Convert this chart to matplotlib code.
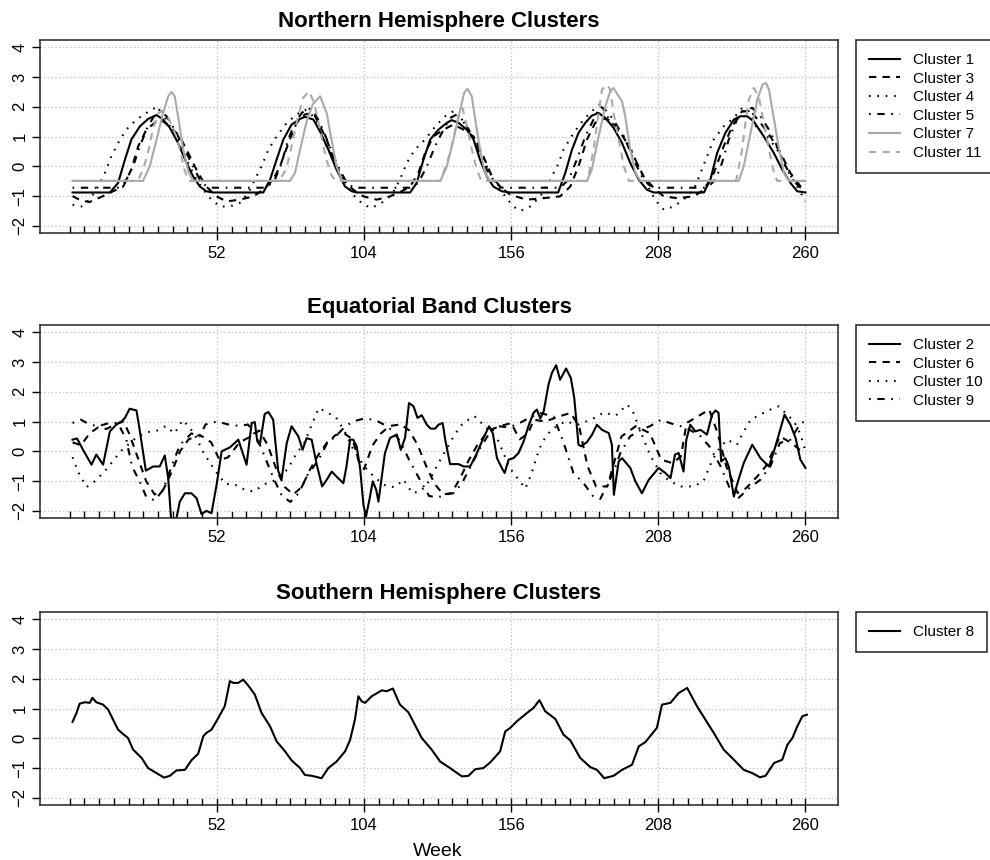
import numpy as np
import matplotlib
matplotlib.use('Agg')
import matplotlib.pyplot as plt
from matplotlib.ticker import FixedLocator

plt.rcParams['font.family'] = ['Liberation Sans', 'DejaVu Sans']

# ---------------- data (week, value) ----------------
# Northern Hemisphere
c1 = [(1, -0.88), (14.2, -0.88), (17.1, -0.56), (19.5, 0.22), (21.8, 0.9), (24.8, 1.34), (27.7, 1.59),
      (30.7, 1.72), (33, 1.57), (35.4, 1.29), (38.3, 0.78), (41.3, 0.11), (43.6, -0.34), (46, -0.68),
      (48.3, -0.84), (50.7, -0.88), (68.4, -0.88), (70.8, -0.45), (73.1, 0.22), (75.5, 0.9), (78.4, 1.4),
      (81.4, 1.59), (83.1, 1.66), (86.1, 1.57), (88.4, 1.18), (91.4, 0.56), (94.3, -0.11), (97.3, -0.68),
      (99.7, -0.84), (101.4, -0.88), (120.3, -0.88), (122.6, -0.56), (125, 0.22), (127.4, 0.9), (130.3, 1.23),
      (133.3, 1.46), (135, 1.55), (137.4, 1.46), (140.3, 1.23), (142.7, 0.9), (145, 0.22), (147.4, -0.34),
      (149.7, -0.68), (152.7, -0.84), (155.7, -0.88), (172.6, -0.88), (175.1, -0.23), (177.5, 0.56),
      (179.8, 1.12), (182.2, 1.46), (184.5, 1.7), (186.9, 1.79), (189.3, 1.62), (192.2, 1.29), (195.2, 0.78),
      (198.1, 0.11), (201.1, -0.45), (204, -0.79), (206.4, -0.88), (224.1, -0.88), (226.4, -0.45),
      (228.8, 0.45), (231.7, 1.12), (234.7, 1.57), (237, 1.68), (239.4, 1.68), (241.7, 1.51), (245.3, 1.0),
      (248.8, 0.45), (251.8, -0.11), (254.7, -0.56), (257.1, -0.84), (260, -0.88)]
c3 = [(1, -1.0), (4, -1.15), (7, -1.2), (11.8, -1.0), (15.3, -0.84), (18.9, -0.68), (21.8, -0.1), (24.2, 0.67),
      (27.1, 1.23), (30.7, 1.51), (33, 1.51), (35.4, 1.34), (38.9, 1.0), (42.5, 0.33), (45.4, -0.23),
      (48.3, -0.68), (51.9, -1.01), (55.4, -1.18), (60.1, -1.12), (64.9, -1.01), (68.4, -0.79), (71.9, -0.45),
      (74.3, 0.0), (77.8, 0.9), (80.2, 1.46), (83.1, 1.74), (86.1, 1.79), (87.3, 1.57), (90.8, 0.9),
      (93.8, 0.11), (96.7, -0.45), (100.2, -0.79), (103.8, -1.01), (108.5, -1.12), (113.2, -1.01),
      (117.3, -0.84), (120.3, -0.68), (123.2, -0.23), (125.6, 0.45), (128.5, 1.0), (132.1, 1.23), (135.6, 1.4),
      (139.2, 1.23), (142.7, 1.0), (146.2, 0.33), (149.2, -0.34), (152.1, -0.68), (155.7, -0.96),
      (161.6, -1.12), (167.5, -1.07), (173.3, -1.01), (176.9, -0.68), (179.8, 0.0), (182.8, 0.9),
      (185.7, 1.46), (188.7, 1.6), (191, 1.55), (194, 1.23), (196.9, 0.78), (199.9, 0.22), (202.8, -0.34),
      (206.4, -0.73), (209.9, -1.01), (214.6, -1.07), (220.5, -1.01), (224.1, -0.79), (227.6, -0.23),
      (231.1, 0.67), (234.1, 1.34), (237.6, 1.85), (240.6, 1.85), (244.1, 1.46), (247.6, 1.0), (251.2, 0.45),
      (254.7, -0.23), (258.3, -0.68), (260, -0.84)]
c4 = [(1, -1.29), (4.1, -1.35), (7.1, -1.12), (10, -0.68), (12.4, -0.23), (14.7, 0.33), (17.1, 0.78),
      (20, 1.23), (23.6, 1.57), (27.1, 1.79), (30.1, 1.96), (32.4, 1.85), (35.4, 1.34), (38.3, 0.9),
      (41.3, 0.22), (44.2, -0.34), (47.2, -0.79), (50.1, -1.12), (53.1, -1.35), (56.6, -1.35), (60.1, -1.23),
      (63.1, -0.9), (65.4, -0.45), (67.8, 0.0), (70.2, 0.56), (73.1, 1.0), (76.7, 1.46), (80.2, 1.74),
      (83.1, 1.9), (86.1, 1.68), (89.6, 0.9), (93.2, 0.22), (96.7, -0.45), (100.2, -0.96), (103.8, -1.29),
      (106.7, -1.4), (110.2, -1.23), (113.8, -0.96), (116.7, -0.45), (119.1, 0.11), (122, 0.56), (125.6, 0.9),
      (129.2, 1.34), (132.7, 1.68), (135.6, 1.85), (138.6, 1.57), (140.9, 1.23), (143.9, 0.78), (146.8, 0.11),
      (150.4, -0.56), (153.9, -1.01), (156.8, -1.35), (159.2, -1.5), (162.7, -1.35), (166.3, -1.01),
      (169.8, -0.45), (172.8, 0.11), (174.5, 0.56), (178.1, 1.12), (181.6, 1.57), (185.1, 1.9), (187.5, 2.1),
      (189.9, 1.68), (193.4, 1.23), (196.9, 0.9), (200.4, 0.11), (203.8, -0.56), (206.8, -1.12),
      (209.9, -1.46), (213.4, -1.35), (216.9, -1.12), (220.5, -0.79), (222.9, -0.23), (225.2, 0.33),
      (227.6, 0.9), (231.1, 1.34), (234.7, 1.62), (237.6, 1.96), (240, 1.85), (243, 1.23), (246.5, 1.0),
      (250, 0.56), (253.5, -0.11), (257.1, -0.68), (260, -1.18)]
c5 = [(1, -0.72), (17, -0.72), (20, -0.45), (22.4, 0.0), (24.8, 0.67), (27.1, 1.23), (30.1, 1.74), (31.8, 1.9),
      (34.2, 1.68), (37.1, 1.23), (40.1, 0.67), (43, 0.11), (46, -0.45), (48.3, -0.68), (50.7, -0.72),
      (69.6, -0.72), (72.5, -0.45), (74.9, 0.11), (77.2, 0.9), (79.6, 1.46), (82, 1.79), (84.3, 1.96),
      (86.1, 1.85), (88.4, 1.46), (91.4, 0.78), (94.3, 0.11), (97.3, -0.45), (100.2, -0.72), (120.3, -0.72),
      (123.2, -0.56), (126.2, 0.0), (129.1, 0.67), (132.1, 1.23), (134.4, 1.62), (136.8, 1.74), (139.2, 1.51),
      (142.1, 1.06), (145, 0.45), (147.4, -0.11), (150.4, -0.56), (152.7, -0.72), (173.3, -0.72),
      (176.3, -0.45), (179.2, 0.22), (182.2, 1.0), (185.1, 1.57), (187.5, 2.01), (189.9, 1.85), (192.8, 1.46),
      (196.3, 0.9), (199.3, 0.22), (202.2, -0.34), (204.6, -0.62), (207, -0.72), (225.2, -0.72),
      (228.2, -0.45), (230.5, 0.11), (232.9, 0.9), (235.8, 1.57), (238.8, 1.9), (241.2, 1.96), (244.1, 1.68),
      (247.1, 1.23), (250, 0.67), (253, 0.0), (255.9, -0.51), (258.3, -0.72), (260, -0.8)]
c7 = [(1, -0.49), (25.9, -0.49), (28.3, 0.0), (30.7, 0.9), (33, 1.79), (34.8, 2.35), (36, 2.5), (37.1, 2.35),
      (38.3, 1.68), (40.1, 0.56), (41.9, -0.17), (43.6, -0.49), (77.8, -0.49), (79.6, -0.23), (81.4, 0.56),
      (83.7, 1.5), (86, 2.1), (88.5, 2.35), (90.8, 1.79), (92.5, 0.9), (94.3, 0.0), (96.1, -0.45), (97, -0.49),
      (131, -0.49), (133.3, 0.0), (135.6, 0.9), (138, 1.9), (139.4, 2.47), (140.6, 2.6), (142.1, 2.35),
      (143.3, 1.57), (145, 0.56), (146.8, -0.23), (148.6, -0.49), (182.8, -0.49), (184.5, -0.12),
      (186.9, 1.0), (189.3, 2.01), (191, 2.52), (192.2, 2.63), (194, 2.35), (195.2, 2.18), (196.3, 1.68),
      (198.1, 0.56), (199.9, -0.23), (201.7, -0.49), (236.4, -0.49), (238.2, 0.0), (240.6, 1.12), (243, 2.24),
      (244.8, 2.74), (246, 2.8), (247.1, 2.58), (248.9, 1.57), (250.7, 0.56), (252.4, -0.23), (254.2, -0.49),
      (260, -0.49)]
c11 = [(1, -0.49), (24, -0.49), (26, -0.1), (28, 0.6), (29.5, 1.3), (31.5, 1.8), (33, 1.85), (35, 1.6),
       (37.7, 1.0), (38.9, 0.56), (40.5, -0.1), (42, -0.49), (74, -0.49), (76.5, -0.1), (78.5, 0.7),
       (80.5, 1.6), (82.5, 2.3), (84.6, 2.52), (86.5, 2.1), (88.5, 1.2), (90.5, 0.3), (92.5, -0.3), (94, -0.49),
       (131, -0.49), (132.5, -0.1), (134.4, 0.45), (136.8, 1.46), (138, 1.85), (138.8, 1.96), (140.4, 1.34),
       (142.1, 0.56), (143.8, -0.1), (145.5, -0.49), (183, -0.49), (185.1, 0.56), (186.9, 1.79), (188.1, 2.58),
       (189.9, 2.74), (191, 2.58), (192.2, 1.79), (194, 0.9), (195.8, 0.0), (197.6, -0.49), (235.5, -0.49),
       (237.6, 0.56), (238.8, 1.46), (240, 2.24), (241.7, 2.63), (243.5, 2.35), (245.3, 1.46), (247.1, 0.56),
       (248.9, -0.23), (250, -0.49), (260, -0.49)]

# Equatorial band
c2 = [(1, 0.39), (2.6, 0.43), (4.7, 0.05), (6.2, -0.2), (7.7, -0.45), (9.4, -0.11), (11.8, -0.45), (14.2, 0.67),
      (16.5, 0.9), (18.3, 1.0), (19.5, 1.12), (21.2, 1.43), (23.6, 1.37), (24.8, 0.67), (26.9, -0.65),
      (29.5, -0.51), (31.8, -0.51), (33.6, -0.14), (34.8, -0.9), (36, -2.5), (37.2, -2.5), (38.9, -1.69),
      (40.7, -1.41), (43, -1.41), (44.8, -1.57), (46.6, -2.11), (48.3, -2.0), (50.1, -2.08), (51.9, -1.13),
      (53.7, 0.0), (56.6, 0.13), (59.6, 0.39), (61.3, -0.11), (62.5, -0.45), (64.3, 0.95), (65.4, 0.98),
      (66.3, 0.33), (67.2, 0.22), (68.9, 1.25), (70.2, 1.32), (71.9, 1.06), (73.7, -0.67), (74.9, -0.92),
      (76.7, 0.28), (78.4, 0.84), (80.8, 0.5), (82.3, 0.05), (83.7, 0.44), (85.5, 0.39), (87.3, -0.45),
      (89.2, -1.18), (90.8, -0.96), (92.6, -0.68), (94.3, -0.85), (96.7, -1.07), (97.8, -0.51), (99.1, 0.39),
      (100.2, 0.39), (101.4, 0.17), (102.6, -0.56), (103.8, -1.8), (104.7, -2.19), (105.9, -1.63),
      (107.1, -1.01), (108.3, -1.29), (109.1, -1.69), (110.3, -0.84), (111.4, -0.06), (113.2, 0.45),
      (115.6, 0.56), (117, 0.05), (118.5, 0.45), (119.9, 1.62), (121.5, 1.51), (122.9, 1.12), (124.4, 1.21),
      (126.2, 0.89), (127.6, 0.76), (129.1, 0.76), (130.3, 0.89), (131.8, 0.95), (132.7, 0.39), (134.4, -0.43),
      (137.4, -0.43), (139.2, -0.51), (141.5, -0.51), (143.9, -0.06), (146.2, 0.45), (148.2, 0.84),
      (149.5, 0.61), (151, -0.23), (152.7, -0.56), (153.7, -0.73), (155.1, -0.28), (156.8, -0.23),
      (158.6, -0.06), (160.4, 0.33), (162.1, 0.84), (163.9, 1.29), (165.1, 1.4), (166.3, 1.1), (167.5, 1.34),
      (169.2, 2.24), (170.4, 2.63), (171.9, 2.89), (173.3, 2.4), (175.4, 2.78), (177.1, 2.46), (178.3, 1.79),
      (179.8, 0.22), (180.7, 0.17), (182.8, 0.31), (184.6, 0.56), (186.3, 0.89), (188.1, 0.72), (190.5, 0.61),
      (191.6, 0.22), (192.3, -1.46), (194, -0.34), (195.2, -0.23), (198.1, -0.56), (199.9, -1.01),
      (202.2, -1.41), (204.6, -0.96), (208.1, -0.56), (210.5, -0.73), (212.3, -0.9), (213.9, -0.11),
      (215.2, -0.06), (216.9, -0.68), (217.9, 0.39), (219.3, 0.89), (221.1, 0.67), (222.9, 0.72),
      (225.2, 0.56), (227, 1.23), (228.2, 1.37), (229.3, 1.29), (230.2, -0.34), (231.7, -0.23), (232.9, -0.51),
      (234.7, -1.52), (235.8, -1.12), (238.2, -0.39), (241.2, 0.22), (244.1, -0.23), (247.1, -0.51),
      (249.4, 0.17), (252.6, 1.23), (254.7, 0.89), (256.5, 0.45), (258.2, -0.28), (260, -0.56)]
c6 = [(1, 0.3), (4, 0.2), (7, 0.6), (10, 0.8), (13, 0.75), (16, 0.9), (19, 1.0), (21, 0.6), (24, -0.2),
      (27, -1.0), (30, -1.45), (33, -1.3), (36, -0.7), (39, 0.0), (42, 0.4), (46, 0.55), (50, 0.3), (53, -0.3),
      (56, -0.2), (60, 0.3), (64, 0.5), (67, 0.7), (70, 0.2), (73, -0.6), (76, -1.2), (79, -1.45), (82, -1.2),
      (85, -0.6), (88, -0.1), (91, 0.3), (94, 0.55), (97, 0.6), (100, 0.4), (102, -0.3), (104, -0.6),
      (107, 0.2), (110, 0.6), (113, 0.85), (117, 0.9), (120, 0.7), (123, 0.2), (126, -0.5), (129, -1.1),
      (132, -1.45), (135, -1.4), (138, -0.9), (141, -0.3), (144, 0.2), (148, 0.7), (152, 0.84), (156, 0.95),
      (159, 0.4), (162, 0.6), (164, 1.06), (168, 1.0), (173, 1.17), (177, 1.29), (180, 0.84), (183, -0.5),
      (186, -1.18), (190, -1.18), (192, -0.5), (195, 0.5), (200, 0.84), (205, 0.61), (209, -0.28),
      (213, -0.4), (216, -0.17), (218, 0.95), (223, 1.23), (226, 1.4), (229, 0.6), (232, -0.5), (236, -1.4),
      (239, -1.24), (243, -0.84), (246, -0.5), (251, 0.5), (255, 0.28), (258, 0.05), (260, -0.06)]
c10 = [(1, -0.2), (3, -0.7), (6, -1.2), (9, -1.0), (13, -0.6), (18, 0.0), (24, 0.5), (28, 0.65), (31, 0.7),
       (34, 0.85), (37, 0.6), (40, 1.05), (44, 0.6), (47, 0.0), (51, -0.6), (55, -1.1), (58, -1.1),
       (62, -1.3), (65, -1.35), (69, -1.1), (73, -0.96), (77, -0.6), (80, -0.1), (83, 0.3), (86, 1.0),
       (88, 1.45), (91, 1.3), (94, 1.15), (97, 0.7), (100, 0.1), (104, -0.5), (108, -0.9), (112, -1.18),
       (115, -1.2), (118, -0.95), (121, -1.4), (124, -1.35), (127, -1.0), (130, -0.45), (133, 0.05),
       (136, 0.56), (139, 0.95), (143, 1.18), (145, 1.0), (147, 0.8), (151, 0.45), (153, 0.0), (155.5, -0.56),
       (159, -1.0), (161, -1.25), (163, -0.8), (166, 0.1), (168.6, 0.56), (171.5, 0.8), (175, 1.0), (180, 0.9),
       (185, 1.1), (188.7, 1.3), (193, 1.2), (197, 1.57), (199, 1.34), (201.7, 0.67), (205, -0.11),
       (208.7, -0.73), (212, -1.0), (216, -1.18), (220.5, -1.18), (224, -1.0), (226.4, -0.45), (228.8, 0.0),
       (232.3, 0.39), (235.8, 0.22), (237.6, 0.56), (240.6, 1.06), (244, 1.23), (247.6, 1.4), (250.6, 1.51),
       (253.5, 1.23), (256, 1.0), (258.3, 0.56), (260, 0.0)]
c9 = [(1, 0.95), (4, 1.06), (7, 0.9), (10, 0.84), (14, 0.95), (17, 0.95), (20, 0.4), (22, -0.5), (25, -1.07),
      (27, -1.52), (30, -1.65), (33, -1.3), (36, -0.5), (39, 0.22), (43, 0.6), (46, 0.5), (48, 0.9), (52, 1.0),
      (56, 0.9), (60, 0.85), (63, 0.9), (66, 0.5), (69, -0.2), (72, -0.9), (75, -1.5), (78, -1.7), (81, -1.4),
      (84, -0.8), (88, -0.28), (91, 0.28), (94, 0.5), (97, 0.8), (100, 1.0), (104, 1.1), (108, 1.05),
      (111, 0.9), (114, 0.7), (117, 0.3), (120, -0.3), (124, -1.0), (127, -1.5), (130, -1.55), (133, -1.45),
      (136, -1.4), (139, -1.0), (142, -0.45), (145, 0.1), (148, 0.56), (151, 0.85), (155, 0.8), (158, 0.9),
      (162, 1.1), (166, 1.29), (171, 1.17), (174.5, 0.3), (178, -0.73), (181.6, -1.07), (185, -1.52),
      (187.5, -1.6), (192, -0.73), (194.6, -0.06), (198, 0.5), (202, 0.73), (205, 0.84), (209, 1.06),
      (212, 0.95), (216, 0.84), (219, 0.73), (223, 0.5), (226, 0.17), (230, -0.5), (233.5, -1.3), (236, -1.6),
      (239.4, -1.29), (244, -0.96), (247.6, -0.5), (251, 0.28), (254.7, 0.39), (258.3, 0.95), (260, 1.0)]

# Southern Hemisphere
c8 = [(1, 0.55), (2.4, 0.85), (3.5, 1.16), (5.3, 1.21), (7.1, 1.19), (8, 1.36), (9.4, 1.21), (11.8, 1.13),
      (13.6, 0.96), (15.3, 0.63), (17.1, 0.29), (18.9, 0.14), (20.6, 0.01), (22.4, -0.38), (25.4, -0.66),
      (27.7, -1.0), (30.7, -1.17), (33.3, -1.32), (35.4, -1.26), (37.7, -1.08), (40.7, -1.06), (43, -0.74),
      (45.4, -0.52), (47.2, 0.07), (48.3, 0.18), (50.1, 0.29), (52.5, 0.68), (54.8, 1.08), (56.6, 1.92),
      (57.8, 1.86), (59.6, 1.86), (61.3, 1.97), (63.1, 1.77), (65.4, 1.47), (67.8, 0.85), (70.8, 0.4),
      (73.1, -0.1), (76.1, -0.44), (78.4, -0.74), (81.4, -1.0), (83.1, -1.23), (85.5, -1.26), (89, -1.34),
      (91.4, -1.0), (94.3, -0.78), (97.3, -0.44), (99.1, -0.05), (100.8, 0.63), (102, 1.41), (103.2, 1.24),
      (104.4, 1.19), (106.7, 1.41), (110.3, 1.61), (112, 1.58), (114.2, 1.67), (116.7, 1.13), (119.7, 0.87),
      (124.4, 0.01), (127.9, -0.38), (130.9, -0.78), (134.4, -1.0), (138.6, -1.28), (140.9, -1.26),
      (143.3, -1.04), (146.2, -1.0), (148.6, -0.81), (152.1, -0.44), (153.9, 0.23), (155.7, 0.35),
      (158, 0.57), (161.6, 0.85), (163.9, 1.02), (166, 1.28), (168, 0.91), (171.6, 0.65), (174.5, 0.12),
      (176.9, -0.07), (180.4, -0.66), (184, -0.97), (186.3, -1.06), (188.9, -1.34), (192.2, -1.26),
      (195.2, -1.06), (198.7, -0.89), (201.1, -0.27), (203.4, -0.13), (207.5, 0.35), (209.3, 1.13),
      (212.3, 1.19), (215.2, 1.52), (218.2, 1.69), (221.7, 1.07), (227.6, 0.18), (231.1, -0.38),
      (234.7, -0.72), (238.2, -1.06), (241.2, -1.17), (243.9, -1.31), (245.9, -1.26), (248.9, -0.83),
      (251.8, -0.72), (253.6, -0.22), (255.4, 0.01), (257.1, 0.4), (258.9, 0.74), (260.5, 0.79)]

north_labels = ['Cluster 1', 'Cluster 3', 'Cluster 4', 'Cluster 5', 'Cluster 7', 'Cluster 11']
equator_labels = ['Cluster 2', 'Cluster 6', 'Cluster 10', 'Cluster 9']
south_labels = ['Cluster 8']
week_ticks = [52, 104, 156, 208, 260]

# R-style line types
SOLID = '-'
DASHED = (0, (3.5, 3))
DOTTED = (0, (0.8, 3.2))
DOTDASH = (0, (0.8, 3.2, 3.5, 3.2))
GREY = '#a9a9a9'

panels = [
    ('Northern Hemisphere Clusters', [c1, c3, c4, c5, c7, c11], north_labels,
     ['black', 'black', 'black', 'black', GREY, GREY], [SOLID, DASHED, DOTTED, DOTDASH, SOLID, DASHED]),
    ('Equatorial Band Clusters', [c2, c6, c10, c9], equator_labels,
     ['black'] * 4, [SOLID, DASHED, DOTTED, DOTDASH]),
    ('Southern Hemisphere Clusters', [c8], south_labels, ['black'], [SOLID]),
]

W, H = 990, 860
fig = plt.figure(figsize=(W / 100, H / 100), dpi=100)

ax_tops = [40, 325, 612]
for (title, series, labels, colors, styles), top in zip(panels, ax_tops):
    ax = fig.add_axes([40 / W, 1 - (top + 193) / H, 798 / W, 193 / H])
    for data, lab, col, ls in zip(series, labels, colors, styles):
        arr = np.array(data)
        ax.plot(arr[:, 0], arr[:, 1], color=col, linestyle=ls, linewidth=1.5, label=lab)

    ax.set_xlim(-10.5, 271.5)
    ax.set_ylim(-2.24, 4.24)
    ax.set_yticks(range(-2, 5))
    ax.set_xticks(week_ticks)
    ax.xaxis.set_minor_locator(FixedLocator(np.arange(51) * 5.2))
    ax.tick_params(axis='x', which='major', direction='inout', length=10, width=1, labelsize=12, pad=4)
    ax.tick_params(axis='x', which='minor', direction='in', length=5, width=1)
    ax.tick_params(axis='y', direction='out', length=6, width=1, labelsize=12, pad=3)
    for lbl in ax.get_yticklabels():
        lbl.set_rotation(90)
        lbl.set_va('center')

    ax.grid(True, which='major', color='#bdbdbd', linestyle=(0, (1, 2)), linewidth=0.9)
    for sp in ax.spines.values():
        sp.set_linewidth(1.1)
        sp.set_color('#222222')

    ax.set_title(title, fontsize=16, fontweight='bold', pad=9)

    leg = ax.legend(loc='upper left', bbox_to_anchor=(856 / W, 1 - top / H), bbox_transform=fig.transFigure,
                    borderaxespad=0, fancybox=False, edgecolor='#222222', framealpha=1, fontsize=11,
                    handlelength=2.0, handletextpad=0.9, labelspacing=0.3, borderpad=0.85)
    leg.get_frame().set_linewidth(1.1)

fig.text(438 / W, 1 - 851 / H, 'Week', ha='center', va='center', fontsize=14)

plt.savefig('out.png', dpi=100)
